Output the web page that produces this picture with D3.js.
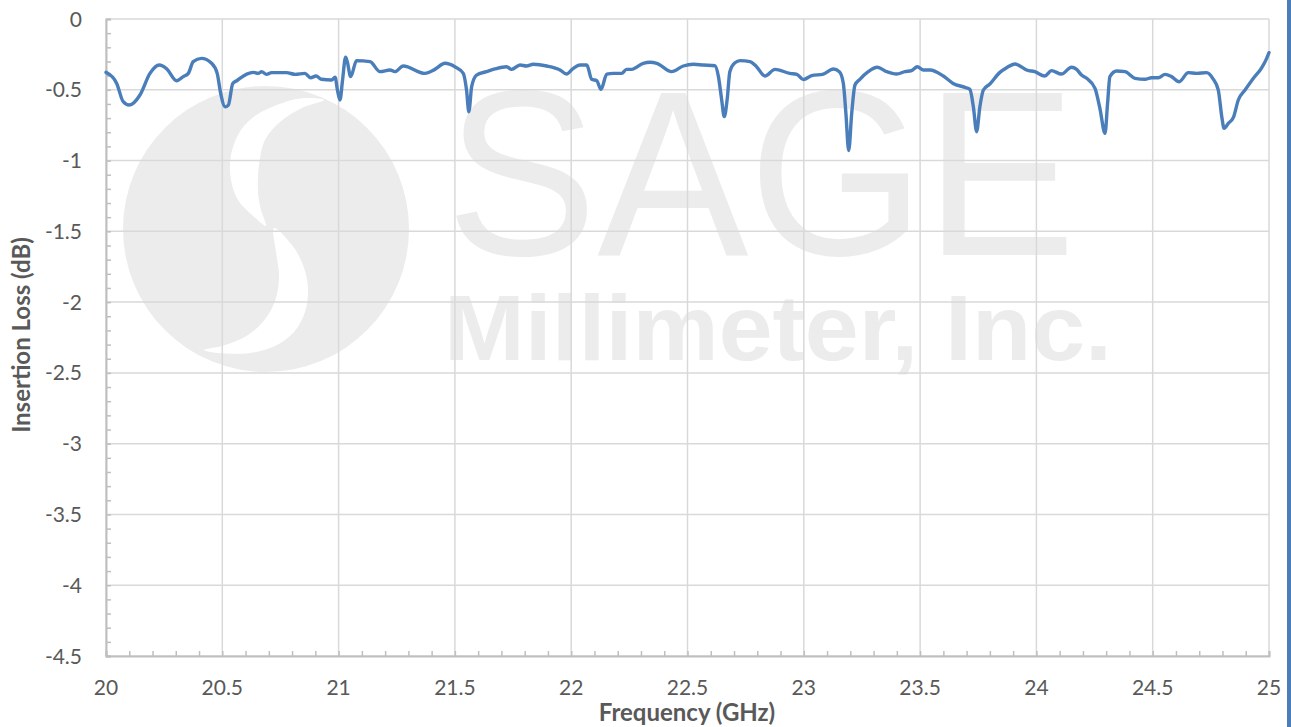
<!DOCTYPE html>
<html>
<head>
<meta charset="utf-8">
<script src="https://cdn.jsdelivr.net/npm/d3@7"></script>
<style>
  html, body { margin: 0; padding: 0; background: #fff; }
  svg { display: block; }
</style>
</head>
<body>
<svg id="chart" width="1291" height="727"></svg>
<script>
// ---------------- DATA ----------------
const freq = [
  20.000,20.046,20.074,20.100,20.146,20.189,20.229,20.260,20.304,20.332,20.354,20.375,20.410,20.454,20.478,20.493,20.512,20.526,20.545,20.562,
  20.605,20.633,20.655,20.669,20.690,20.712,20.776,20.813,20.855,20.880,20.903,20.927,20.970,20.985,20.995,21.006,21.017,21.030,21.037,21.052,
  21.077,21.135,21.178,21.221,21.242,21.278,21.371,21.414,21.457,21.500,21.536,21.550,21.560,21.572,21.593,21.636,21.672,21.722,21.744,21.780,
  21.808,21.837,21.895,21.952,21.980,22.009,22.038,22.067,22.088,22.110,22.128,22.153,22.181,22.217,22.238,22.260,22.310,22.339,22.368,22.432,
  22.482,22.525,22.568,22.618,22.633,22.647,22.658,22.671,22.682,22.704,22.726,22.769,22.797,22.833,22.876,22.940,22.970,22.998,23.034,23.084,
  23.127,23.153,23.170,23.181,23.193,23.206,23.220,23.241,23.277,23.316,23.356,23.399,23.435,23.463,23.488,23.514,23.543,23.600,23.642,23.693,
  23.714,23.729,23.743,23.757,23.772,23.800,23.843,23.872,23.908,23.929,23.958,23.993,24.036,24.065,24.108,24.151,24.173,24.194,24.216,24.252,
  24.273,24.295,24.306,24.316,24.345,24.381,24.424,24.467,24.495,24.524,24.553,24.581,24.614,24.653,24.689,24.732,24.758,24.782,24.797,24.807,
  24.825,24.847,24.868,24.897,24.933,24.969,24.990,25.000
];
const insertionLoss = [
  -0.377,-0.455,-0.584,-0.608,-0.537,-0.384,-0.325,-0.350,-0.436,-0.407,-0.384,-0.301,-0.278,-0.313,-0.384,-0.525,-0.620,-0.608,-0.455,-0.436,
  -0.389,-0.377,-0.384,-0.372,-0.391,-0.379,-0.379,-0.391,-0.384,-0.415,-0.403,-0.426,-0.431,-0.412,-0.502,-0.572,-0.431,-0.270,-0.301,-0.407,
  -0.294,-0.301,-0.372,-0.360,-0.372,-0.332,-0.384,-0.356,-0.313,-0.337,-0.384,-0.502,-0.655,-0.478,-0.396,-0.372,-0.353,-0.337,-0.356,-0.325,
  -0.332,-0.320,-0.332,-0.360,-0.389,-0.349,-0.325,-0.325,-0.426,-0.436,-0.497,-0.389,-0.384,-0.384,-0.356,-0.356,-0.313,-0.306,-0.313,-0.372,
  -0.332,-0.320,-0.325,-0.330,-0.407,-0.572,-0.690,-0.561,-0.372,-0.309,-0.294,-0.301,-0.337,-0.403,-0.356,-0.384,-0.391,-0.428,-0.400,-0.389,
  -0.353,-0.372,-0.455,-0.666,-0.930,-0.666,-0.466,-0.426,-0.372,-0.341,-0.372,-0.389,-0.372,-0.365,-0.337,-0.360,-0.360,-0.403,-0.455,-0.483,
  -0.497,-0.620,-0.796,-0.620,-0.502,-0.459,-0.377,-0.344,-0.318,-0.332,-0.360,-0.372,-0.403,-0.365,-0.389,-0.341,-0.356,-0.396,-0.419,-0.490,
  -0.631,-0.808,-0.596,-0.407,-0.367,-0.372,-0.419,-0.426,-0.415,-0.415,-0.391,-0.407,-0.443,-0.379,-0.384,-0.379,-0.419,-0.502,-0.690,-0.773,
  -0.737,-0.695,-0.572,-0.502,-0.419,-0.344,-0.278,-0.238
];
const xTicks = [20, 20.5, 21, 21.5, 22, 22.5, 23, 23.5, 24, 24.5, 25];
const yTicks = [0, -0.5, -1, -1.5, -2, -2.5, -3, -3.5, -4, -4.5];
const xTickLabels = ["20", "20.5", "21", "21.5", "22", "22.5", "23", "23.5", "24", "24.5", "25"];
const yTickLabels = ["0", "-0.5", "-1", "-1.5", "-2", "-2.5", "-3", "-3.5", "-4", "-4.5"];
const xLabel = "Frequency (GHz)";
const yLabel = "Insertion Loss (dB)";

// ---------------- LAYOUT ----------------
const W = 1291, H = 727;
const m = { left: 106, top: 19, right: 1269, bottom: 656 };
const svg = d3.select("#chart");

const x = d3.scaleLinear().domain([20, 25]).range([m.left, m.right]);
const y = d3.scaleLinear().domain([-4.5, 0]).range([m.bottom, m.top]);

svg.append("rect").attr("width", W).attr("height", H).attr("fill", "#fff");

// ---------------- WATERMARK ----------------
const wm = svg.append("g").attr("class", "watermark");
const wmCol = "#ececec";
wm.append("circle").attr("cx", 266).attr("cy", 229).attr("r", 143).attr("fill", wmCol);
const crescent = d3.line().curve(d3.curveCatmullRomClosed.alpha(0.5));
wm.append("path").attr("fill", "#fff").attr("d", crescent([
  [292,100],[258,114],[241,130],[231,155],[231,180],[238,200],[252,215],[266,226],
  [261,210],[258,192],[259,165],[265,140],[280,122],[302,108],[324,100],[308,98]
]));
wm.append("path").attr("fill", "#fff").attr("d", crescent([
  [274,228],[292,245],[303,265],[308,288],[305,312],[294,332],[275,346],[250,353],[218,353],[204,350],
  [222,346],[248,335],[266,318],[276,298],[279,275],[276,252]
]));
const wmText = wm.append("text")
  .attr("font-family", "Liberation Sans, Arial, sans-serif").attr("fill", wmCol);
wmText.append("tspan").attr("x", 446).attr("y", 255)
  .attr("font-size", 236)
  .attr("textLength", 630).attr("lengthAdjust", "spacingAndGlyphs")
  .text("SAGE");
wmText.append("tspan").attr("x", 444).attr("y", 360)
  .attr("font-size", 92).attr("font-weight", "bold")
  .attr("textLength", 668).attr("lengthAdjust", "spacingAndGlyphs")
  .text("Millimeter, Inc.");

// ---------------- GRID ----------------
const gridCol = "#d9d9d9";
svg.append("g").selectAll("line").data(yTicks).join("line")
  .attr("x1", m.left).attr("x2", m.right)
  .attr("y1", d => y(d)).attr("y2", d => y(d))
  .attr("stroke", gridCol).attr("stroke-width", 1.5);
svg.append("g").selectAll("line").data(xTicks).join("line")
  .attr("y1", m.top).attr("y2", m.bottom)
  .attr("x1", d => x(d)).attr("x2", d => x(d))
  .attr("stroke", gridCol).attr("stroke-width", 1.5);

// ---------------- AXES ----------------
const axisCol = "#bfbfbf";
const minorX = d3.range(0, 51).map(i => 20 + i * 0.1);
const minorY = d3.range(0, 46).map(i => -i * 0.1);
const xAxis = svg.append("g").attr("transform", `translate(0,${m.bottom})`)
  .call(d3.axisBottom(x).tickValues(minorX).tickSize(-5).tickFormat(""));
const yAxis = svg.append("g").attr("transform", `translate(${m.left},0)`)
  .call(d3.axisLeft(y).tickValues(minorY).tickSize(-5).tickFormat(""));
[xAxis, yAxis].forEach(a => {
  a.select(".domain").attr("stroke", axisCol).attr("stroke-width", 2);
  a.selectAll(".tick line").attr("stroke", axisCol).attr("stroke-width", 1.5);
});

const tickFont = "Lato, 'Open Sans', sans-serif";
svg.append("g").selectAll("text").data(xTicks).join("text")
  .attr("x", d => x(d)).attr("y", 695)
  .attr("text-anchor", "middle")
  .attr("font-family", tickFont).attr("font-size", 21).attr("fill", "#595959")
  .text((d, i) => xTickLabels[i]);
svg.append("g").selectAll("text").data(yTicks).join("text")
  .attr("x", 82).attr("y", d => y(d) + 7.5)
  .attr("text-anchor", "end")
  .attr("font-family", tickFont).attr("font-size", 21).attr("fill", "#595959")
  .text((d, i) => yTickLabels[i]);

svg.append("text").attr("x", 687).attr("y", 721).attr("text-anchor", "middle")
  .attr("font-family", tickFont).attr("font-weight", "bold").attr("font-size", 24)
  .attr("fill", "#595959").text(xLabel);
svg.append("text").attr("transform", `translate(30,335) rotate(-90)`)
  .attr("text-anchor", "middle")
  .attr("font-family", tickFont).attr("font-weight", "bold").attr("font-size", 24)
  .attr("fill", "#595959").text(yLabel);

// ---------------- LINE ----------------
const pts = freq.map((f, i) => [f, insertionLoss[i]]);
svg.append("path").datum(pts)
  .attr("fill", "none").attr("stroke", "#4a7ebb").attr("stroke-width", 3.4)
  .attr("stroke-linejoin", "round").attr("stroke-linecap", "round")
  .attr("d", d3.line().x(d => x(d[0])).y(d => y(d[1])).curve(d3.curveMonotoneX));

// right edge blue bar
svg.append("rect").attr("x", 1287).attr("y", 0).attr("width", 4).attr("height", H).attr("fill", "#4a7ebb");
</script>
</body>
</html>
